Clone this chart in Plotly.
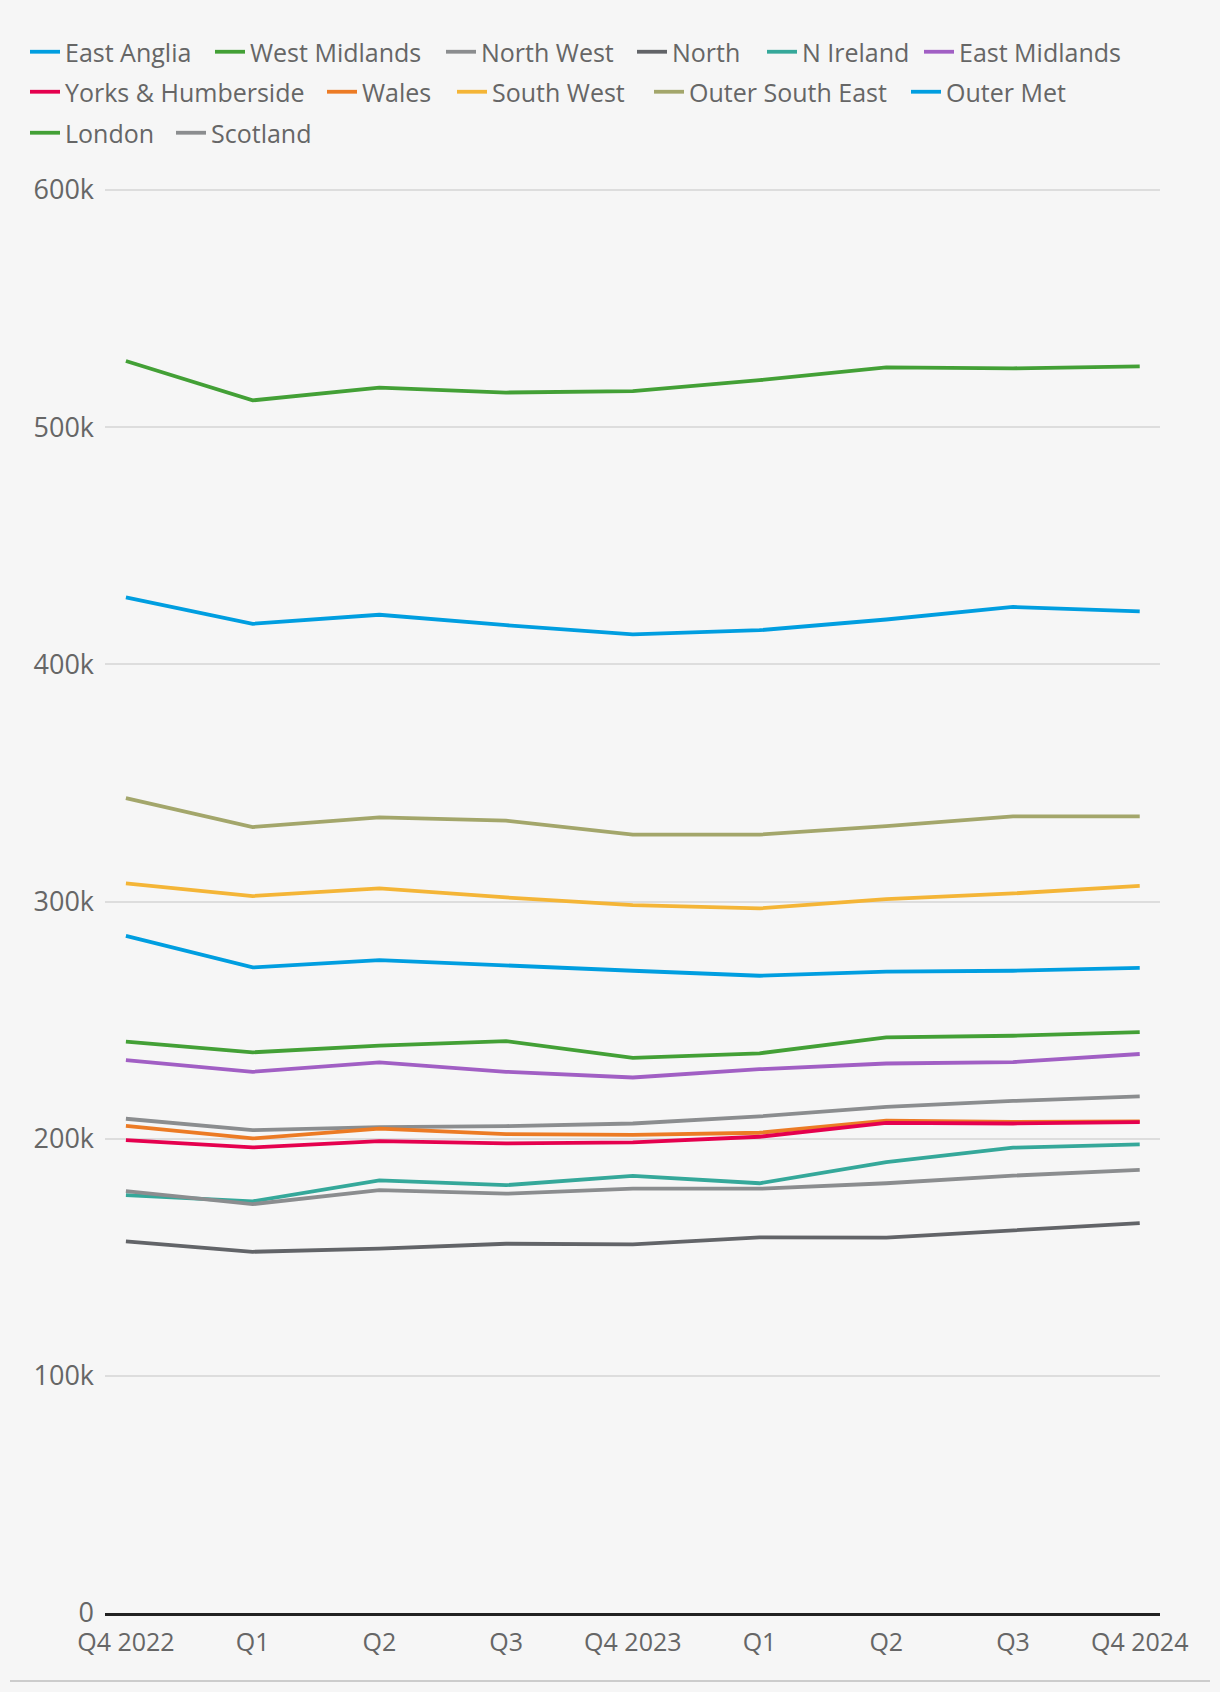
import plotly.graph_objects as go

quarters = ["Q4 2022", "Q1", "Q2", "Q3", "Q4 2023", "Q1 ", "Q2 ", "Q3 ", "Q4 2024"]
tick_labels = ["Q4 2022", "Q1", "Q2", "Q3", "Q4 2023", "Q1", "Q2", "Q3", "Q4 2024"]

east_anglia = [285500, 272200, 275300, 272900, 270800, 268700, 270400, 270800, 272000]
west_midlands = [240900, 236400, 239200, 241100, 234100, 236000, 242700, 243400, 244900]
north_west = [208400, 203600, 204900, 205300, 206400, 209400, 213400, 215900, 217800]
north = [156700, 152300, 153600, 155700, 155400, 158400, 158300, 161200, 164400]
n_ireland = [176200, 173600, 182400, 180400, 184300, 181200, 190100, 196200, 197600]
east_midlands = [233100, 228200, 232200, 228200, 225800, 229300, 231700, 232300, 235700]
yorks = [199400, 196300, 199000, 198000, 198400, 200800, 206700, 206400, 207000]
wales = [205400, 200100, 204200, 201900, 201600, 202500, 207600, 207100, 207300]
south_west = [307600, 302300, 305500, 301700, 298500, 297100, 301000, 303400, 306600]
outer_south_east = [343600, 331400, 335500, 334100, 328200, 328200, 331800, 335900, 335900]
outer_met = [428200, 417100, 420900, 416500, 412600, 414400, 418900, 424200, 422300]
london = [527900, 511300, 516700, 514600, 515200, 519800, 525200, 524800, 525600]
scotland = [177900, 172400, 178300, 176800, 178900, 178900, 181200, 184400, 186800]

y_tickvals = [0, 100000, 200000, 300000, 400000, 500000, 600000]
y_ticktext = ["0", "100k", "200k", "300k", "400k", "500k", "600k"]

# (name, values, colour, legend slot); drawing order puts Wales under Yorks
series = [
    ("East Anglia", east_anglia, "#009ee0", 1),
    ("West Midlands", west_midlands, "#43a036", 2),
    ("North West", north_west, "#8b8d8f", 3),
    ("North", north, "#626468", 4),
    ("N Ireland", n_ireland, "#35a89a", 5),
    ("East Midlands", east_midlands, "#a15fc4", 6),
    ("Wales", wales, "#ec7b25", 8),
    ("Yorks & Humberside", yorks, "#e5004e", 7),
    ("South West", south_west, "#f4b537", 9),
    ("Outer South East", outer_south_east, "#a3a66b", 10),
    ("Outer Met", outer_met, "#009ee0", 11),
    ("London", london, "#43a036", 12),
    ("Scotland", scotland, "#8b8d8f", 13),
]

# legend entry placement (left px of symbol, row centre px)
legend_pos = {
    1: (31, 52), 2: (216, 52), 3: (447, 52), 4: (638, 52), 5: (768, 52), 6: (925, 52),
    7: (31, 92), 8: (328, 92), 9: (458, 92), 10: (655, 92), 11: (912, 92),
    12: (31, 133), 13: (177, 133),
}

W, H = 1220, 1692
L, R, T, B = 105, 60, 176, 79
pw = W - L - R
ph = H - T - B
px_per_unit = 1423 / 600000.0
y_top = ph / px_per_unit

fig = go.Figure()
for name, vals, col, slot in series:
    fig.add_trace(go.Scatter(
        x=quarters, y=vals, name=name, mode="lines",
        line=dict(color=col, width=3.8),
        legend="legend" if slot == 1 else "legend%d" % slot,
    ))

legends = {}
for slot, (xs, yc) in legend_pos.items():
    key = "legend" if slot == 1 else "legend%d" % slot
    legends[key] = dict(
        orientation="h",
        x=(xs - 6 - L) / pw, xanchor="left",
        y=(H - B - yc) / ph, yanchor="middle",
        font=dict(size=25, color="#666666", family="Open Sans"),
        bgcolor="rgba(0,0,0,0)",
        itemwidth=30,
    )

fig.update_layout(
    width=W, height=H,
    margin=dict(l=L, r=R, t=T, b=B),
    paper_bgcolor="#f6f6f6",
    plot_bgcolor="#f6f6f6",
    font=dict(family="Open Sans", color="#666666", size=25),
    showlegend=True,
    xaxis=dict(
        type="category",
        categoryorder="array", categoryarray=quarters,
        tickvals=quarters, ticktext=tick_labels,
        range=[-0.165, 8.16],
        showgrid=False, zeroline=False,
        showline=True, linecolor="#222222", linewidth=3,
        ticks="", tickfont=dict(size=25, color="#666666"),
        ticklabelstandoff=5,
        fixedrange=True,
    ),
    yaxis=dict(
        range=[0, y_top],
        tickvals=y_tickvals, ticktext=y_ticktext,
        showgrid=True, gridcolor="#dddddd", gridwidth=2,
        zeroline=False, showline=False,
        ticks="", tickfont=dict(size=27, color="#666666"),
        ticklabelstandoff=10,
        fixedrange=True,
    ),
    shapes=[dict(
        type="line", xref="paper", yref="paper",
        x0=(10 - L) / pw, x1=(1210 - L) / pw,
        y0=-(1681 - (H - B)) / ph, y1=-(1681 - (H - B)) / ph,
        line=dict(color="#cccccc", width=2),
    )],
    **legends,
)

fig.write_html(
    "out.html",
    config={"displayModeBar": False},
    post_script="document.body.style.margin='0';document.body.style.background='#f6f6f6';",
)
